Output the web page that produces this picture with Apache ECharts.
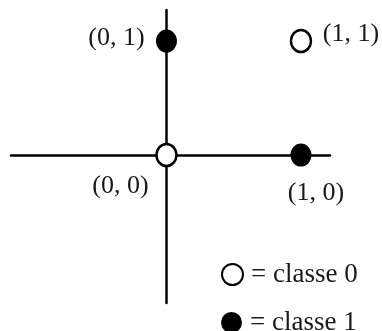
<!DOCTYPE html>
<html>
<head>
<meta charset="utf-8">
<script src="https://cdn.jsdelivr.net/npm/echarts@6/dist/echarts.min.js"></script>
<style>
  html, body { margin: 0; padding: 0; background: #fff; }
  #chart { width: 382px; height: 331px; }
</style>
</head>
<body>
<div id="chart"></div>
<script>
(function() {
	'use strict';

	// points of the XOR problem
	var classNames = ['classe 0', 'classe 1'];
	var class0Points = [[0, 0], [1, 1]];
	var class1Points = [[0, 1], [1, 0]];

	var chart = echarts.init(document.getElementById('chart'));
	var font = '"Liberation Serif", "Times New Roman", serif';

	// where each coordinate label sits around its point
	var labelOffsets = {
		'0,0': [-46, 31],
		'0,1': [-50, -3],
		'1,1': [50, -7],
		'1,0': [15, 38]
	};

	function toData(points) {
		return points.map(function(p) {
			return {
				value: p,
				label: {
					show: true,
					position: 'inside',
					offset: labelOffsets[p.join(',')],
					formatter: '(' + p[0] + ', ' + p[1] + ')',
					color: '#1a1a1a',
					fontFamily: font,
					fontSize: 26
				}
			};
		});
	}

	// one legend box per class, stacked at the bottom right
	function legendFor(name, top) {
		return {
			orient: 'vertical',
			left: 221,
			top: top,
			padding: 0,
			itemWidth: 21,
			itemHeight: 22,
			icon: 'circle',
			formatter: '= {name}',
			textStyle: {
				color: '#1a1a1a',
				fontFamily: font,
				fontSize: 27,
				lineHeight: 22,
				padding: [0, 0, 0, 3]
			},
			data: [name]
		};
	}

	var option = {
		animation: false,
		grid: {
			left: 11,
			right: 52,
			top: 10,
			bottom: 28
		},
		xAxis: {
			type: 'value',
			min: -1.156,
			max: 1.216,
			axisLine: { onZero: true, lineStyle: { color: '#000', width: 2.5 } },
			axisTick: { show: false },
			axisLabel: { show: false },
			splitLine: { show: false }
		},
		yAxis: {
			type: 'value',
			min: -1.298,
			max: 1.272,
			axisLine: { show: true, onZero: true, lineStyle: { color: '#000', width: 2.5 } },
			axisTick: { show: false },
			axisLabel: { show: false },
			splitLine: { show: false }
		},
		legend: [legendFor(classNames[0], 261), legendFor(classNames[1], 309)],
		series: [{
			name: classNames[0],
			type: 'scatter',
			symbol: 'circle',
			symbolSize: [20, 22],
			itemStyle: { color: '#fff', borderColor: '#000', borderWidth: 2.5, opacity: 1 },
			data: toData(class0Points),
			z: 5
		}, {
			name: classNames[1],
			type: 'scatter',
			symbol: 'circle',
			symbolSize: [21, 23],
			itemStyle: { color: '#000', borderColor: '#000', borderWidth: 0, opacity: 1 },
			data: toData(class1Points),
			z: 5
		}]
	};
	chart.setOption(option);
})();
</script>
</body>
</html>
